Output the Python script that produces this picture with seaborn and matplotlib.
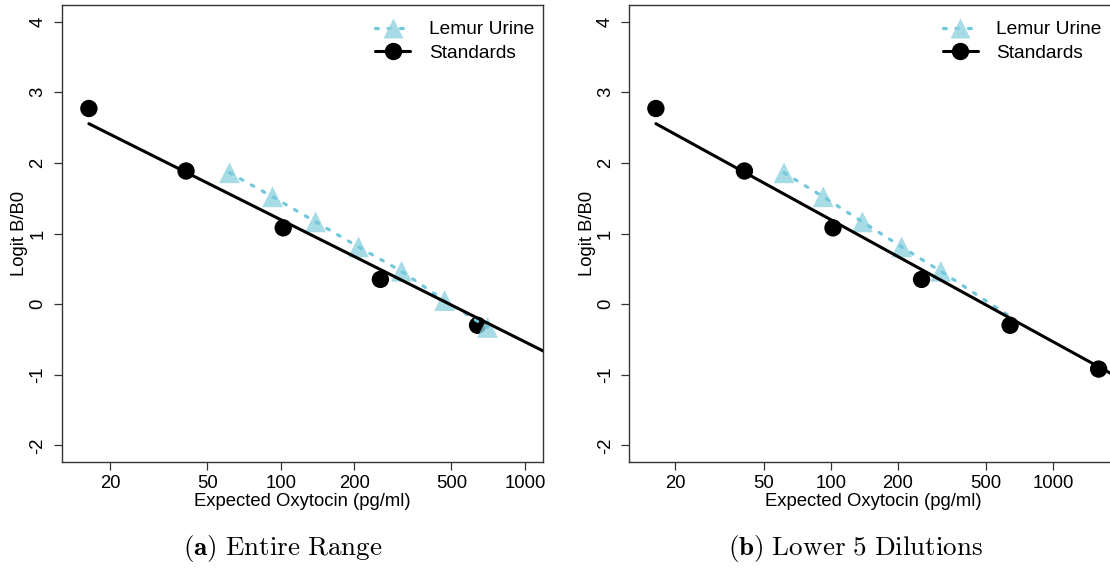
import numpy as np
import pandas as pd
import matplotlib
matplotlib.use("Agg")
import matplotlib.pyplot as plt
import matplotlib.colors as mcolors
from matplotlib.lines import Line2D
import seaborn as sns

# ---------------- data ----------------
std_x = [16.384, 40.96, 102.4, 256.0, 640.0, 1600.0]
std_y = [2.77, 1.885, 1.08, 0.35, -0.30, -0.92]

lemur_x = [61.7, 92.6, 138.9, 208.3, 312.5, 468.8, 703.1]
lemur_y = [1.86, 1.52, 1.165, 0.81, 0.465, 0.05, -0.33]

# panel (b): dotted line continues past the 5 shown dilutions
lemur_b_tail_x = [665.0]
lemur_b_tail_y = [-0.21]

fit_intercept = 4.656   # logit = intercept + slope * log10(x)
fit_slope = -1.73

x_ticks = [20, 50, 100, 200, 500, 1000]
y_ticks = [-2, -1, 0, 1, 2, 3, 4]
xlim_a = (15, 1000)
xlim_b = (15, 1600)
ylim = (-2, 4)

series_labels = ["Lemur Urine", "Standards"]
x_label = "Expected Oxytocin (pg/ml)"
y_label = "Logit B/B0"
captions = [r"$\mathbf{(a)}\ \mathrm{Entire\ Range}$",
            r"$\mathbf{(b)}\ \mathrm{Lower\ 5\ Dilutions}$"]

# ---------------- style ----------------
sns.set_theme(style="white")
plt.rcParams["font.family"] = ["Liberation Sans", "DejaVu Sans"]
plt.rcParams["mathtext.fontset"] = "cm"
plt.rcParams["text.color"] = "black"
plt.rcParams["axes.labelcolor"] = "black"
plt.rcParams["xtick.color"] = "black"
plt.rcParams["ytick.color"] = "black"

tri_col = mcolors.to_rgba("#8fd3e1", 0.78)
dot_col = "#74c8dc"
W, H = 1110, 569
fig = plt.figure(figsize=(W / 100, H / 100), dpi=100)


def r_expand(lo, hi, log=False):
    if log:
        a, b = np.log10(lo), np.log10(hi)
        d = 0.04 * (b - a)
        return 10 ** (a - d), 10 ** (b + d)
    d = 0.04 * (hi - lo)
    return lo - d, hi + d


panels = [
    dict(left=61.7, right=542.7, xlim=xlim_a, n_std=5, n_tri=7,
         line_x=lemur_x, line_y=lemur_y, cap_x=283),
    dict(left=629.3, right=1116.7, xlim=xlim_b, n_std=6, n_tri=5,
         line_x=lemur_x[:5] + lemur_b_tail_x, line_y=lemur_y[:5] + lemur_b_tail_y,
         cap_x=856),
]
top, bottom = 4.7, 462.3
fs = 13.3
fs_leg = 13.8

for i, p in enumerate(panels):
    ax = fig.add_axes([p["left"] / W, 1 - bottom / H,
                       (p["right"] - p["left"]) / W, (bottom - top) / H])
    ax.set_xscale("log")
    ax.set_xlim(*r_expand(*p["xlim"], log=True))
    ax.set_ylim(*r_expand(*ylim))

    sx = std_x[:p["n_std"]]
    sy = std_y[:p["n_std"]]
    sns.scatterplot(x=sx, y=sy, ax=ax, color="black", s=12.5 ** 2,
                    marker="o", edgecolor="none", zorder=2, legend=False)
    sns.scatterplot(x=lemur_x[:p["n_tri"]], y=lemur_y[:p["n_tri"]], ax=ax,
                    color=tri_col, s=15 ** 2, marker="^", edgecolor="none",
                    zorder=3, legend=False)
    sns.lineplot(x=p["line_x"], y=p["line_y"], ax=ax, color=dot_col,
                 linewidth=2.3, linestyle=(0, (0.9, 3.0)),
                 dash_capstyle="round", zorder=4, sort=False)
    fx = np.geomspace(std_x[0], 3000, 50)
    fy = fit_intercept + fit_slope * np.log10(fx)
    sns.lineplot(x=fx, y=fy, ax=ax, color="black", linewidth=2.2, zorder=5,
                 sort=False)

    ax.set_xticks(x_ticks)
    ax.set_xticklabels([str(t) for t in x_ticks], fontsize=fs)
    ax.xaxis.set_minor_locator(matplotlib.ticker.NullLocator())
    ax.set_yticks(y_ticks)
    ax.set_yticklabels([str(t) for t in y_ticks], fontsize=fs, rotation=90,
                       va="center")
    ax.tick_params(axis="both", direction="out", length=6, width=0.9,
                   color="#333333", labelcolor="black", bottom=True, left=True)
    ax.tick_params(axis="x", pad=3)
    ax.tick_params(axis="y", pad=5)
    for s in ax.spines.values():
        s.set_color("#333333")
        s.set_linewidth(1.0)
    ax.set_xlabel(x_label, fontsize=fs, labelpad=1)
    ax.set_ylabel(y_label, fontsize=fs, labelpad=1)

    handles = [
        Line2D([], [], color=dot_col, linewidth=2.3, linestyle=(0, (0.9, 3.0)),
               dash_capstyle="round", marker="^", markersize=15,
               markerfacecolor=tri_col, markeredgecolor="none"),
        Line2D([], [], color="black", linewidth=2.2, marker="o",
               markersize=12.5, markerfacecolor="black",
               markeredgecolor="none"),
    ]
    ax.legend(handles, series_labels, loc="upper left",
              bbox_to_anchor=((p["left"] + 313.3) / W, 1 - 21 / H),
              bbox_transform=fig.transFigure, frameon=False, fontsize=fs_leg,
              handlelength=1.85, handletextpad=0.95, borderpad=0,
              borderaxespad=0, labelspacing=0.3, numpoints=1)

    fig.text(p["cap_x"] / W, 1 - 548 / H, captions[i],
             ha="center", va="center", fontsize=19.5)

fig.savefig("out.png", dpi=100)
